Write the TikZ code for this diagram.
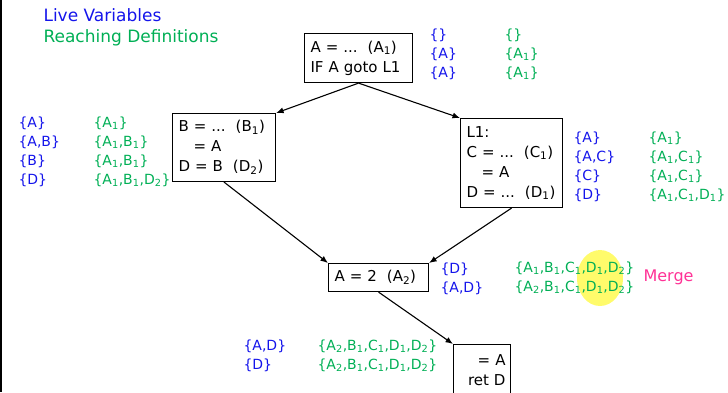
\documentclass[tikz,border=0pt]{standalone}
\usepackage{fontspec}
\setmainfont{DejaVu Sans}
\usetikzlibrary{arrows.meta}

\definecolor{lvblue}{RGB}{20,20,235}
\definecolor{rdgreen}{RGB}{0,175,85}
\definecolor{mergepink}{RGB}{255,50,150}
\definecolor{hilite}{RGB}{255,250,70}
\newcommand{\ix}[1]{\textsubscript{#1}}

\begin{document}
\begin{tikzpicture}[x=1pt,y=-1pt,line width=1.1pt,
	cfgbox/.style={draw, anchor=north west, inner xsep=6pt, inner ysep=0pt, align=left,
		font=\fontsize{15}{20}\selectfont},
	lvset/.style={anchor=base west, inner sep=0pt, align=left, text=lvblue,
		font=\fontsize{14}{19}\selectfont},
	rdset/.style={lvset, text=rdgreen},
	flow/.style={-{Latex[length=7.5pt,width=6pt]}, line width=1.1pt}]

\useasboundingbox (0,0) rectangle (728,392);
\draw[line width=2pt] (1,0) -- (1,392);

% legend
\node[anchor=west, inner sep=0pt, text=lvblue, font=\fontsize{17}{20}\selectfont] (lvtitle) at (43,15) {Live Variables};
\node[anchor=west, inner sep=0pt, text=rdgreen, font=\fontsize{17}{20}\selectfont] (rdtitle) at (43,38) {Reaching Definitions};

% highlight behind the merged sets
\fill[hilite, opacity=0.8] (600,278) ellipse (23 and 28);

% blocks
\node[cfgbox, text width=96pt, minimum height=49pt] (a1) at (304,33)
	{A~=~...~~(A\ix{1})\\IF~A~goto~L1};
\node[cfgbox, text width=91pt, minimum height=68pt] (b1) at (172,113)
	{B~=~...~~(B\ix{1})\\\hspace*{1em}=~A\\D~=~B~~(D\ix{2})};
\node[cfgbox, text width=90pt, minimum height=89pt] (c1) at (460,118)
	{L1:\\C~=~...~~(C\ix{1})\\\hspace*{1em}=~A\\D~=~...~~(D\ix{1})};
\node[cfgbox, text width=88pt, minimum height=28pt] (a2) at (328,263)
	{A~=~2~~(A\ix{2})};
\node[cfgbox, inner xsep=5pt, align=right, text width=47pt, minimum height=52pt] (ret) at (453,344)
	{=~A\\ret~D};

\draw[flow] (a1.south) -- (b1.north east);
\draw[flow] (a1.south) -- (c1.north west);
\draw[flow] (b1.south) -- (a2.north west);
\draw[flow] (c1.south) -- (a2.north east);
\draw[flow] (a2.south) -- (ret.north west);

% sets at the top block (base = last line)
\node[lvset] (lvtop) at (429,77.5) {\{\}\\\{A\}\\\{A\}};
\node[rdset] (rdtop) at (504,77.5) {\{\}\\\{A\ix{1}\}\\\{A\ix{1}\}};

% sets at the left block
\node[lvset] (lvleft) at (18,184.5) {\{A\}\\\{A,B\}\\\{B\}\\\{D\}};
\node[rdset] (rdleft) at (93,184.5)
	{\{A\ix{1}\}\\\{A\ix{1},B\ix{1}\}\\\{A\ix{1},B\ix{1}\}\\\{A\ix{1},B\ix{1},D\ix{2}\}};

% sets at the right block
\node[lvset] (lvright) at (573,199) {\{A\}\\\{A,C\}\\\{C\}\\\{D\}};
\node[rdset] (rdright) at (648,199)
	{\{A\ix{1}\}\\\{A\ix{1},C\ix{1}\}\\\{A\ix{1},C\ix{1}\}\\\{A\ix{1},C\ix{1},D\ix{1}\}};

% sets at the join
\node[lvset] (lvjoin) at (440,292) {\{D\}\\\{A,D\}};
\node[rdset] (rdjoin) at (514,291.5)
	{\{A\ix{1},B\ix{1},C\ix{1},D\ix{1},D\ix{2}\}\\\{A\ix{2},B\ix{1},C\ix{1},D\ix{1},D\ix{2}\}};
\node[anchor=west, inner sep=0pt, text=mergepink, font=\fontsize{16}{19}\selectfont] (merge) at (643,277) {Merge};

% sets at the exit
\node[lvset] (lvexit) at (243,369.5) {\{A,D\}\\\{D\}};
\node[rdset] (rdexit) at (317,369.5)
	{\{A\ix{2},B\ix{1},C\ix{1},D\ix{1},D\ix{2}\}\\\{A\ix{2},B\ix{1},C\ix{1},D\ix{1},D\ix{2}\}};

\end{tikzpicture}
\end{document}
